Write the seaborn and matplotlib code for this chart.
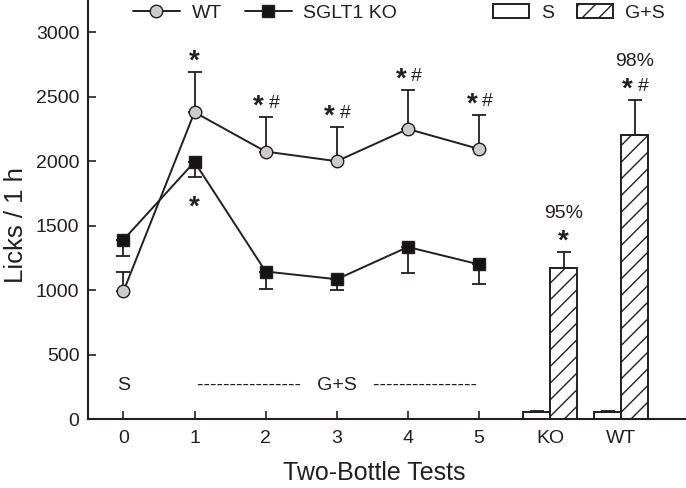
import numpy as np
import pandas as pd
import matplotlib
matplotlib.use("Agg")
import matplotlib.pyplot as plt
import seaborn as sns
from matplotlib.container import BarContainer
from matplotlib.lines import Line2D
from matplotlib.patches import Patch

# --- data ---
tests = [0, 1, 2, 3, 4, 5]
wt_licks = [990, 2380, 2075, 2000, 2250, 2095]
wt_sem = [150, 310, 270, 265, 305, 260]
ko_licks = [1390, 1995, 1145, 1085, 1335, 1200]
ko_sem = [125, 115, 135, 85, 205, 150]
wt_marks = ["", "*", "*#", "*#", "*#", "*#"]
ko_marks = ["", "*", "", "", "", ""]

bar_groups = ["KO", "WT"]
bar_pos = [6, 7]
s_licks = [55, 55]
s_sem = [12, 12]
gs_licks = [1170, 2205]
gs_sem = [125, 270]
gs_pct = ["95%", "98%"]
gs_marks = ["*", "*#"]

x_ticklabels = ["0", "1", "2", "3", "4", "5", "KO", "WT"]
y_ticks = [0, 500, 1000, 1500, 2000, 2500, 3000]

ink = "#231f20"

sns.set_style("ticks")
plt.rcParams["font.family"] = ["Liberation Sans", "DejaVu Sans"]
plt.rcParams["hatch.linewidth"] = 1.0
plt.rcParams["hatch.color"] = ink

fig = plt.figure(figsize=(6.86, 4.88), dpi=100)
ax = fig.add_axes([0.128, 0.141, 0.871, 0.859])

lines_df = pd.DataFrame({
    "test": tests * 2,
    "licks": wt_licks + ko_licks,
    "genotype": ["WT"] * len(tests) + ["SGLT1 KO"] * len(tests),
})

# bars first, so the hatched container is easy to find
bars_df = pd.DataFrame({
    "pos": bar_pos * 2,
    "licks": s_licks + gs_licks,
    "solution": ["S"] * 2 + ["G+S"] * 2,
})
sns.barplot(data=bars_df, x="pos", y="licks", hue="solution", hue_order=["S", "G+S"],
            native_scale=True, width=0.76, palette={"S": "white", "G+S": "white"},
            edgecolor=ink, linewidth=1.4, errorbar=None, legend=False, ax=ax)
bar_conts = [c for c in ax.containers if isinstance(c, BarContainer)]
for patch in bar_conts[1]:
    patch.set_hatch("//")

bw = 0.38
s_x = [p - bw / 2 for p in bar_pos]
gs_x = [p + bw / 2 for p in bar_pos]
ax.errorbar(s_x, s_licks, yerr=[np.zeros(2), s_sem], fmt="none", ecolor=ink,
            elinewidth=1.3, capsize=5, capthick=1.3)
ax.errorbar(gs_x, gs_licks, yerr=[np.zeros(2), gs_sem], fmt="none", ecolor=ink,
            elinewidth=1.3, capsize=5, capthick=1.3)

# one-sided error bars on the lines
ax.errorbar(tests, wt_licks, yerr=[np.zeros(len(tests)), wt_sem], fmt="none",
            ecolor=ink, elinewidth=1.3, capsize=5, capthick=1.3, zorder=2)
ax.errorbar(tests, ko_licks, yerr=[ko_sem, np.zeros(len(tests))], fmt="none",
            ecolor=ink, elinewidth=1.3, capsize=5, capthick=1.3, zorder=2)

sns.lineplot(data=lines_df[lines_df.genotype == "WT"], x="test", y="licks",
             color=ink, lw=1.4, marker="o", markersize=9,
             markerfacecolor="#cbcbcb", markeredgecolor=ink, markeredgewidth=1.0,
             ax=ax, legend=False, zorder=3)
sns.lineplot(data=lines_df[lines_df.genotype == "SGLT1 KO"], x="test", y="licks",
             color=ink, lw=1.4, marker="s", markersize=8,
             markerfacecolor="#141414", markeredgecolor=ink, markeredgewidth=1.0,
             ax=ax, legend=False, zorder=3)


def mark(x, y, label):
    # asterisk is drawn bigger and heavier than the hash sign
    if label == "*":
        ax.text(x, y, "*", ha="center", va="center", fontsize=20,
                fontweight="bold", color=ink)
    elif label == "*#":
        ax.text(x - 0.1, y, "*", ha="center", va="center", fontsize=20,
                fontweight="bold", color=ink)
        ax.text(x + 0.12, y + 25, "#", ha="center", va="center", fontsize=14, color=ink)


for x, y, e, m in zip(tests, wt_licks, wt_sem, wt_marks):
    if m:
        mark(x, y + e + 80, m)
for x, y, e, m in zip(tests, ko_licks, ko_sem, ko_marks):
    if m:
        mark(x, y - e - 240, m)
for x, y, e, m, p in zip(gs_x, gs_licks, gs_sem, gs_marks, gs_pct):
    mark(x, y + e + 80, m)
    ax.text(x, y + e + 300, p, ha="center", va="center", fontsize=14, color=ink)

ax.text(0, 262, "S", ha="center", va="center", fontsize=14, color=ink)
ax.text(3, 262, "-" * 16 + "   G+S   " + "-" * 16, ha="center", va="center",
        fontsize=14, color=ink)

ax.set_xlim(-0.5, 7.9)
ax.set_ylim(0, 3250)
ax.set_xticks(range(len(x_ticklabels)))
ax.set_xticklabels(x_ticklabels)
ax.set_yticks(y_ticks)
ax.tick_params(axis="both", direction="in", length=6, width=1.2, labelsize=14,
               colors=ink)
ax.tick_params(axis="x", pad=8)
ax.tick_params(axis="y", pad=6)
ax.set_xlabel("Two-Bottle Tests", fontsize=18, color=ink)
ax.set_ylabel("Licks / 1 h", fontsize=18.5, color=ink)
ax.xaxis.set_label_coords(0.479, -0.1)
ax.yaxis.set_label_coords(-0.1, 0.463)
for side in ["top", "right"]:
    ax.spines[side].set_visible(False)
for side in ["left", "bottom"]:
    ax.spines[side].set_linewidth(1.5)
    ax.spines[side].set_color(ink)

line_handles = [
    Line2D([], [], color=ink, lw=1.4, marker="o", markersize=9,
           markerfacecolor="#cbcbcb", markeredgecolor=ink),
    Line2D([], [], color=ink, lw=1.4, marker="s", markersize=8,
           markerfacecolor="#141414", markeredgecolor=ink),
]
leg1 = fig.legend(line_handles, ["WT", "SGLT1 KO"], loc="center left",
                  bbox_to_anchor=(0.194, 0.973), ncol=2, frameon=False,
                  fontsize=14, handlelength=2.4, handletextpad=0.6,
                  columnspacing=1.2, borderpad=0, borderaxespad=0)
bar_handles = [
    Patch(facecolor="white", edgecolor=ink, lw=1.4),
    Patch(facecolor="white", edgecolor=ink, lw=1.4, hatch="//"),
]
leg2 = fig.legend(bar_handles, ["S", "G+S"], loc="center left",
                  bbox_to_anchor=(0.719, 0.973), ncol=2, frameon=False,
                  fontsize=14, handlelength=1.85, handletextpad=0.6,
                  columnspacing=1.2, borderpad=0, borderaxespad=0)
for t in leg1.get_texts() + leg2.get_texts():
    t.set_color(ink)

fig.savefig("out.png", dpi=100)
